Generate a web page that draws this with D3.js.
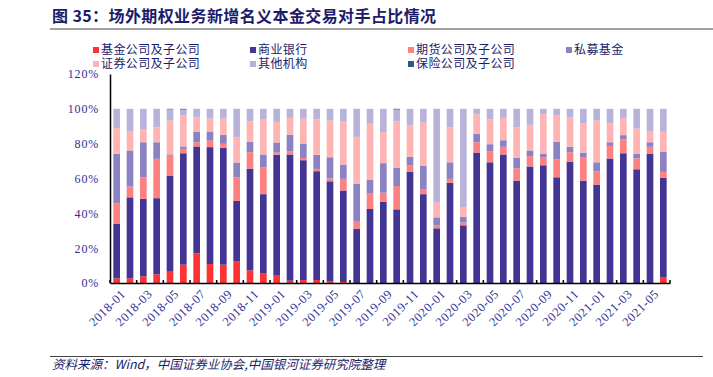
<!DOCTYPE html>
<html>
<head>
<meta charset="utf-8">
<script src="https://cdn.jsdelivr.net/npm/d3@7"></script>
<style>
  body { margin: 0; background: #fff; }
  svg { display: block; }
</style>
</head>
<body>
<svg id="chart" width="713" height="377"></svg>
<script>
'use strict';

const width = 713, height = 377;

// months 2018-01 .. 2021-06
const months = [];
for (let y = 2018; y <= 2021; y++) {
  for (let m = 1; m <= 12; m++) {
    if (y === 2021 && m > 6) break;
    months.push(y + '-' + String(m).padStart(2, '0'));
  }
}

const seriesNames = ['基金公司及子公司', '商业银行', '期货公司及子公司', '私募基金', '证券公司及子公司', '其他机构', '保险公司及子公司'];
const seriesColors = ['#ff3333', '#433593', '#ff8080', '#8a82c2', '#ffb3b3', '#b9b3da', '#2a5a8a'];

const fund = [2.7,2.7,3.8,5.0,6.5,10.5,17.0,10.9,10.5,12.6,7.3,5.4,4.2,1.3,1.7,1.7,0.8,0.6,0,0,0,0,0,0,0,0,0,0,0,0,0,0,0,0,0,0,0,0,0,0,0,3.1];
const bank = [31.2,46.5,44.5,43.7,55.2,64.0,61.4,67.1,67.1,34.5,58.4,45.6,69.4,72.5,68.8,62.5,57.6,52.5,31.0,42.5,46.7,42.3,63.8,51.0,31.4,57.5,33.1,74.9,69.3,73.8,58.8,66.9,67.6,60.7,69.7,58.8,56.5,71.5,74.5,65.3,74.1,57.4];
const futures = [11.9,6.2,12.4,22.6,11.9,2.5,2.4,3.8,2.3,13.6,9.4,15.3,1.3,1.7,1.3,1.3,1.6,6.7,4.2,8.8,5.2,13.4,3.8,2.6,1.6,2.3,1.6,5.9,6.4,4.4,7.1,5.9,4.4,10.2,5.4,13.2,7.5,7.2,7.9,6.3,4.1,3.3];
const privateFund = [28.3,20.7,20.1,9.5,0.3,1.4,6.2,5.2,5.2,8.5,6.1,7.5,5.8,9.7,8.3,8.1,12.2,8.2,21.7,8.1,16.9,10.6,4.8,13.6,4.7,9.5,3.4,5.0,4.0,3.8,5.9,3.3,2.1,10.1,3.1,2.9,5.3,2.1,2.5,2.5,2.6,11.7];
const securities = [14.8,11.1,7.3,8.5,19.4,17.8,8.2,7.4,9.3,14.5,11.7,20.3,11.8,9.6,14.2,20.3,21.1,24.7,27.0,32.0,17.8,26.4,18.2,24.9,8.5,20.0,5.2,11.1,14.2,12.8,17.7,14.7,22.8,15.4,17.0,16.7,24.0,10.8,9.7,14.6,6.4,11.3];
const others = [11.1,12.8,11.9,10.7,6.4,3.4,4.8,5.6,5.6,16.3,7.1,5.9,7.5,5.2,5.7,6.1,6.7,7.3,16.1,8.6,13.4,6.9,9.4,7.9,53.8,10.7,56.7,3.1,6.1,5.2,10.5,9.2,3.1,3.6,4.8,8.4,6.7,8.4,5.4,11.3,12.8,13.2];
const insurance = [0,0,0,0,0.3,0.4,0,0,0,0,0,0,0,0,0,0,0,0,0,0,0,0.4,0,0,0,0,0,0,0,0,0,0,0,0,0,0,0,0,0,0,0,0];

const yTicks = [0, 20, 40, 60, 80, 100, 120];

const seriesValues = [fund, bank, futures, privateFund, securities, others, insurance];
const table = months.map((m, i) => {
  const row = { month: m };
  seriesNames.forEach((s, k) => { row[s] = seriesValues[k][i]; });
  return row;
});

const margin = { left: 110, right: 43, top: 74, bottom: 94 };
const plotW = width - margin.left - margin.right;
const plotH = height - margin.top - margin.bottom;

const svg = d3.select('#chart');
const navy = '#1c1c6b';
const axisBlue = '#2e2e96';
const cjk = '"Noto Sans CJK SC", "Noto Sans", sans-serif';
const serif = '"Liberation Serif", "DejaVu Serif", serif';

// title
svg.append('text')
  .attr('x', 52).attr('y', 22)
  .attr('font-family', cjk)
  .attr('font-weight', 'bold')
  .attr('font-size', 16)
  .attr('letter-spacing', 0.4)
  .attr('fill', navy)
  .text('图 35：场外期权业务新增名义本金交易对手占比情况');

svg.append('line')
  .attr('x1', 50).attr('x2', 713).attr('y1', 29).attr('y2', 29)
  .attr('stroke', '#444').attr('stroke-width', 1.2);

// legend
const legendPos = [[93, 50], [250, 50], [408, 50], [566, 50], [93, 64], [250, 64], [408, 64]];
const legend = svg.append('g');
seriesNames.forEach((s, k) => {
  const [lx, ly] = legendPos[k];
  legend.append('rect')
    .attr('x', lx).attr('y', ly - 3)
    .attr('width', 6).attr('height', 6)
    .attr('fill', seriesColors[k]);
  legend.append('text')
    .attr('x', lx + 8).attr('y', ly)
    .attr('dy', '0.35em')
    .attr('font-family', cjk)
    .attr('font-size', 12)
    .attr('letter-spacing', 0.4)
    .attr('fill', navy)
    .text(s);
});

const x = d3.scaleBand()
  .domain(months)
  .range([margin.left, margin.left + plotW])
  .paddingInner(0.5)
  .paddingOuter(0.25);

const y = d3.scaleLinear()
  .domain([0, 120])
  .range([margin.top + plotH, margin.top]);

const stack = d3.stack().keys(seriesNames);
const layers = stack(table);

svg.append('g')
  .selectAll('g')
  .data(layers)
  .join('g')
  .attr('fill', (d, k) => seriesColors[k])
  .selectAll('rect')
  .data(d => d)
  .join('rect')
  .attr('x', d => x(d.data.month))
  .attr('width', x.bandwidth())
  .attr('y', d => y(d[1]))
  .attr('height', d => Math.max(0, y(d[0]) - y(d[1])));

// y axis
const yAxis = d3.axisLeft(y)
  .tickValues(yTicks)
  .tickFormat(d => d + '%')
  .tickSize(0)
  .tickPadding(11);

const gy = svg.append('g')
  .attr('transform', `translate(${margin.left},0)`)
  .call(yAxis);
gy.select('.domain').attr('stroke', '#000').attr('stroke-width', 1.5);
gy.selectAll('text')
  .attr('font-family', serif)
  .attr('font-size', 12)
  .attr('letter-spacing', 0.8)
  .attr('fill', axisBlue);

// x axis
const step = x.step();
const xAxis = d3.axisBottom(x)
  .tickValues(months.filter((m, i) => i % 2 === 0))
  .tickSize(0)
  .tickPadding(6);

const gx = svg.append('g')
  .attr('transform', `translate(0,${margin.top + plotH})`)
  .call(xAxis);
gx.select('.domain').attr('stroke', '#000').attr('stroke-width', 1.5);
gx.selectAll('text')
  .attr('font-family', serif)
  .attr('font-size', 12.5)
  .attr('letter-spacing', 0.6)
  .attr('fill', axisBlue)
  .attr('text-anchor', 'end')
  .attr('transform', 'translate(1,3) rotate(-45)')
  .attr('dy', '0.5em');

// inner tick marks on band boundaries every 2 months
const tickIdx = d3.range(0, months.length + 1, 2);
svg.append('g')
  .selectAll('line')
  .data(tickIdx)
  .join('line')
  .attr('x1', i => margin.left + i * step)
  .attr('x2', i => margin.left + i * step)
  .attr('y1', margin.top + plotH)
  .attr('y2', margin.top + plotH - 3)
  .attr('stroke', '#000')
  .attr('stroke-width', 1.5);

// source
svg.append('line')
  .attr('x1', 50).attr('x2', 703).attr('y1', 356.5).attr('y2', 356.5)
  .attr('stroke', '#444').attr('stroke-width', 1.2);

svg.append('text')
  .attr('x', 52).attr('y', 369)
  .attr('font-family', cjk)
  .attr('font-style', 'italic')
  .attr('font-size', 12.5)
  .attr('fill', navy)
  .text('资料来源：Wind，中国证券业协会,中国银河证券研究院整理');
</script>
</body>
</html>
